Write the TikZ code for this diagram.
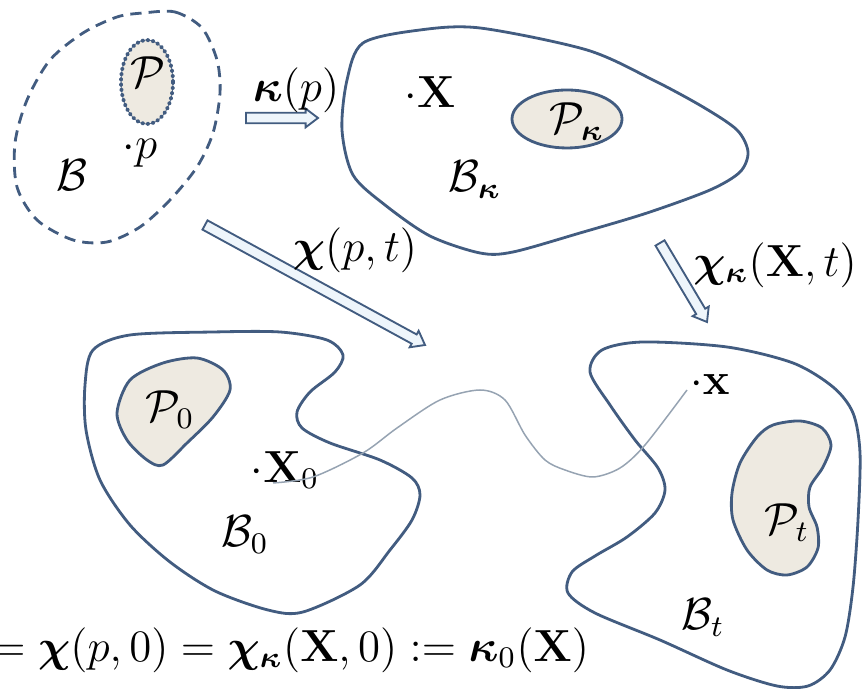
\documentclass[tikz,border=0pt]{standalone}
\usepackage{amsmath,amssymb,bm}
\usetikzlibrary{calc}
\definecolor{bodyBlue}{RGB}{66,92,128}
\definecolor{partFill}{RGB}{238,234,225}
\definecolor{arrowFill}{RGB}{238,245,251}
\definecolor{pathGrey}{RGB}{150,163,178}
\newcommand{\hollowarrow}[2]{%
  \coordinate (#1h) at ($(#2)!3.3pt!(#1)$);
  \draw[fatarrow] ($(#1)!1.4pt!90:(#2)$) -- ($(#1h)!1.4pt!90:(#2)$)
    -- ($(#1h)!2.5pt!90:(#2)$) -- (#2) -- ($(#1h)!2.5pt!-90:(#2)$)
    -- ($(#1h)!1.4pt!-90:(#2)$) -- ($(#1)!1.4pt!-90:(#2)$) -- cycle;}

\begin{document}
\begin{tikzpicture}[
    x=0.267pt, y=-0.267pt,
    every node/.style={font=\large, inner sep=1pt},
    body/.style={draw=bodyBlue, line width=0.75pt},
    part/.style={body, fill=partFill},
    fatarrow/.style={draw=bodyBlue, fill=arrowFill, line width=0.5pt},
    trajline/.style={draw=pathGrey, line width=0.4pt}
]
  \useasboundingbox (0,0) rectangle (862,689);

  % reference body
  \draw[body, dash pattern=on 3pt off 1.9pt] plot[smooth cycle] coordinates {
    (143,13) (175,12) (202,28) (217,60) (220,93) (213,133) (197,167)
    (170,200) (140,227) (107,242) (73,240) (37,220) (17,187) (15,143)
    (27,100) (50,60) (83,33) (117,17)};
  \draw[part, line width=1pt, dash pattern=on 0.4pt off 1pt, line cap=round]
    (147,82) ellipse [x radius=26, y radius=42];
  \node (P) at (148,72) {$\mathcal{P}$};
  \node (p) at (140,153) {$\cdot p$};
  \node (B) at (72,175) {$\mathcal{B}$};

  % configuration B_kappa
  \draw[body] plot[smooth cycle] coordinates {
    (363,43) (420,30) (480,28) (587,50) (653,80) (703,107) (737,130)
    (748,152) (740,172) (710,190) (647,213) (580,233) (513,252) (480,253)
    (430,236) (385,205) (353,175) (342,130) (347,80)};
  \draw[part] (567,119) ellipse [x radius=55, y radius=29];
  \node (Pk) at (577,122) {$\mathcal{P}_{\bm{\kappa}}$};
  \node (X) at (430,92) {$\cdot\mathbf{X}$};
  \node (Bk) at (475,180) {$\mathcal{B}_{\bm{\kappa}}$};

  % configuration B_0
  \draw[body] plot[smooth cycle] coordinates {
    (93,350) (130,335) (213,332) (280,332) (327,340) (343,355) (335,372)
    (310,392) (297,412) (302,428) (330,443) (380,460) (412,478) (420,495)
    (412,520) (390,550) (360,585) (303,612) (268,610) (215,591) (170,562)
    (130,525) (100,480) (86,430) (85,385)};
  \draw[part] plot[smooth cycle] coordinates {
    (117,413) (130,380) (163,363) (197,358) (223,370) (230,390) (213,417)
    (187,443) (163,465) (147,460) (127,440)};
  \node (P0) at (170,410) {$\mathcal{P}_0$};
  \node (X0) at (285,470) {$\cdot\mathbf{X}_0$};
  \node (B0) at (245,535) {$\mathcal{B}_0$};

  % configuration B_t
  \draw[body] plot[smooth cycle] coordinates {
    (590,372) (602,350) (643,342) (727,347) (793,363) (833,387) (853,413)
    (860,453) (858,520) (853,587) (845,637) (830,670) (808,686) (777,686)
    (727,670) (660,640) (595,613) (568,593) (572,572) (595,556) (627,537)
    (655,513) (665,490) (658,468) (635,440) (610,405)};
  \draw[part] plot[smooth cycle] coordinates {
    (773,425) (800,421) (822,428) (831,445) (823,467) (810,487) (809,507)
    (817,527) (818,548) (807,567) (787,575) (767,570) (747,550) (733,520)
    (732,493) (740,463) (757,437)};
  \node (Pt) at (787,523) {$\mathcal{P}_t$};
  \node (x) at (710,385) {$\cdot\mathbf{x}$};
  \node (Bt) at (703,618) {$\mathcal{B}_t$};

  % motion of the point
  \coordinate (X0pt) at (273,483);
  \coordinate (xpt) at (687,390);
  \draw[trajline] plot[smooth] coordinates {
    (X0pt) (313,477) (363,453) (397,428) (440,400) (480,390) (505,400)
    (525,435) (545,460) (565,470) (593,477) (620,468) (645,445) (xpt)};

  % maps
  \coordinate (kapS) at (246,118);
  \coordinate (kapE) at (318,118);
  \coordinate (chiS) at (205,225);
  \coordinate (chiE) at (425,345);
  \coordinate (chkS) at (660,243);
  \coordinate (chkE) at (707,322);
  \hollowarrow{kapS}{kapE}
  \hollowarrow{chiS}{chiE}
  \hollowarrow{chkS}{chkE}
  \node (kap) at (296,90) {$\bm{\kappa}(p)$};
  \node (chi) at (355,250) {$\bm{\chi}(p,t)$};
  \node (chk) at (775,265) {$\bm{\chi}_{\bm{\kappa}}(\mathbf{X},t)$};

  \node[anchor=west] (eq) at (-13,650)
    {$=\bm{\chi}(p,0)=\bm{\chi}_{\bm{\kappa}}(\mathbf{X},0):=\bm{\kappa}_0(\mathbf{X})$};
\end{tikzpicture}
\end{document}
